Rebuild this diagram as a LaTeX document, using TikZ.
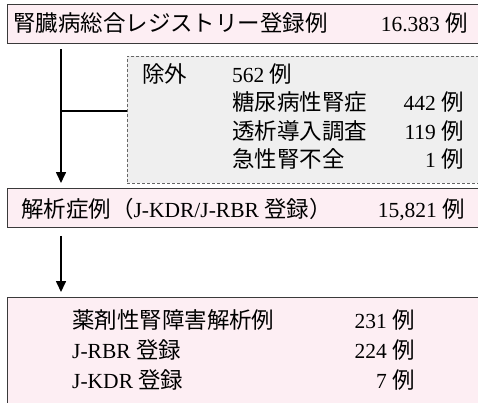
\documentclass[tikz,border=0pt]{standalone}
\usepackage{fontspec}
\setmainfont{Liberation Serif}
\newfontfamily\jp[Scale=1.045]{Noto Sans CJK JP}
\usetikzlibrary{arrows.meta}
\definecolor{pinkbg}{HTML}{FDEEF3}
\definecolor{graybg}{HTML}{EFEFEF}
\definecolor{edgec}{HTML}{3A3A3A}
\begin{document}
\begin{tikzpicture}[x=1pt,y=-1pt,
  font=\fontsize{21.5}{25}\selectfont,
  pinkbox/.style={draw=edgec,line width=0.9pt,fill=pinkbg,anchor=north west,inner sep=0pt},
  graybox/.style={draw=gray!80!black,dashed,dash pattern=on 3pt off 2pt,line width=0.8pt,fill=graybg,anchor=north west,inner sep=0pt},
  lt/.style={anchor=base west,inner sep=0pt},
  rt/.style={anchor=base east,inner sep=0pt},
  conn/.style={line width=1.6pt,black},
  arr/.style={conn,-{Triangle[width=10pt,length=11pt]}}]
\useasboundingbox (0,0) rectangle (478,402);
\clip (0,0) rectangle (478,402);
% boxes
\node (b1) [pinkbox,minimum width=490pt,minimum height=38.5pt] at (7,4) {};
\node (ex) [graybox,minimum width=370pt,minimum height=127pt] at (127,55.5) {};
\node (b2) [pinkbox,minimum width=490pt,minimum height=39pt] at (7,188) {};
\node (b3) [pinkbox,minimum width=490pt,minimum height=130pt] at (7,297) {};
\coordinate (ax) at (61,0);
\coordinate (br) at (0,111);
% connectors
\draw[arr,shorten <=6pt,shorten >=5pt] (b1.south -| ax) -- (b2.north -| ax);
\draw[conn] (ax |- br) -- (ex.west |- br);
\draw[arr,shorten <=8pt,shorten >=5pt] (b2.south -| ax) -- (b3.north -| ax);
% box 1 text
\node (t1a) [lt] at (13,31) {\jp 腎臓病総合レジストリー登録例};
\node (t1b) [rt] at (468,31) {16.383 {\jp 例}};
% excluded
\node (e0) [lt] at (142,82) {\jp 除外};
\node (e0n) [lt] at (232,82) {562 {\jp 例}};
\node (e1) [lt] at (232,110.5) {\jp 糖尿病性腎症};
\node (e1n) [rt] at (464,110.5) {442 {\jp 例}};
\node (e2) [lt] at (232,139) {\jp 透析導入調査};
\node (e2n) [rt] at (464,139) {119 {\jp 例}};
\node (e3) [lt] at (232,167) {\jp 急性腎不全};
\node (e3n) [rt] at (464,167) {1 {\jp 例}};
% box 2 text
\node (t2a) [lt] at (21,217) {{\jp 解析症例（}J-KDR/J-RBR {\jp 登録）}};
\node (t2b) [rt] at (465,217) {15,821 {\jp 例}};
% box 3 text
\node (d0) [lt] at (72,328) {\jp 薬剤性腎障害解析例};
\node (d0n) [rt] at (415,328) {231 {\jp 例}};
\node (d1) [lt] at (72,358) {J-RBR {\jp 登録}};
\node (d1n) [rt] at (415,358) {224 {\jp 例}};
\node (d2) [lt] at (72,388) {J-KDR {\jp 登録}};
\node (d2n) [rt] at (415,388) {7 {\jp 例}};
\end{tikzpicture}
\end{document}
